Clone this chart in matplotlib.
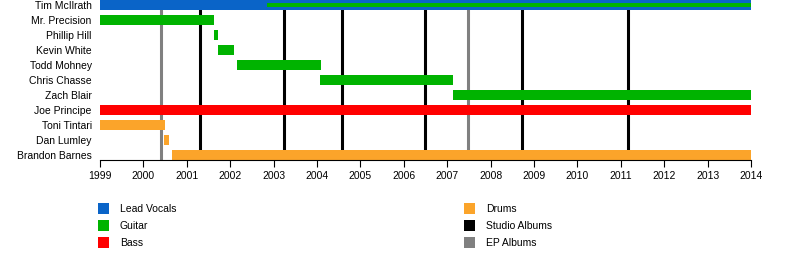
import matplotlib
matplotlib.use("Agg")
import matplotlib.pyplot as plt
from matplotlib.patches import Rectangle

plt.rcParams['font.family'] = ['Liberation Sans', 'DejaVu Sans']

members = ["Tim McIlrath", "Mr. Precision", "Phillip Hill", "Kevin White", "Todd Mohney",
           "Chris Chasse", "Zach Blair", "Joe Principe", "Toni Tintari", "Dan Lumley",
           "Brandon Barnes"]
# (member, start, end, role)
spans = [
    ("Tim McIlrath", 1999.0, 2014.0, "Lead Vocals"),
    ("Mr. Precision", 1999.0, 2001.63, "Guitar"),
    ("Phillip Hill", 2001.62, 2001.73, "Guitar"),
    ("Kevin White", 2001.73, 2002.09, "Guitar"),
    ("Todd Mohney", 2002.16, 2004.09, "Guitar"),
    ("Chris Chasse", 2004.07, 2007.13, "Guitar"),
    ("Zach Blair", 2007.13, 2014.0, "Guitar"),
    ("Joe Principe", 1999.0, 2014.0, "Bass"),
    ("Toni Tintari", 1999.0, 2000.5, "Drums"),
    ("Dan Lumley", 2000.47, 2000.59, "Drums"),
    ("Brandon Barnes", 2000.66, 2014.0, "Drums"),
]
# secondary role (thin inner bar)
secondary = [("Tim McIlrath", 2002.85, 2014.0, "Guitar")]

studio_albums = [2001.30, 2003.24, 2004.58, 2006.49, 2008.72, 2011.17]
ep_albums = [2000.41, 2007.48]

years = list(range(1999, 2015))

colors = {"Lead Vocals": "#0A64C8", "Guitar": "#00B300", "Bass": "#FF0000",
          "Drums": "#FBA42A", "Studio Albums": "#000000", "EP Albums": "#808080"}
legend_left = ["Lead Vocals", "Guitar", "Bass"]
legend_right = ["Drums", "Studio Albums", "EP Albums"]

W, H = 800, 280
fig = plt.figure(figsize=(W / 100, H / 100), dpi=100)
ax = fig.add_axes([100 / W, 1 - 160 / H, 651 / W, 160 / H])

row = {m: i for i, m in enumerate(members)}
for x in studio_albums:
    ax.axvline(x, color=colors["Studio Albums"], lw=2.2, zorder=1)
for x in ep_albums:
    ax.axvline(x, color=colors["EP Albums"], lw=2.2, zorder=1)

for m, s, e, r in spans:
    ax.barh(row[m], e - s, left=s, height=0.72, color=colors[r], zorder=2, linewidth=0)
for m, s, e, r in secondary:
    ax.barh(row[m], e - s, left=s, height=0.27, color=colors[r], zorder=3, linewidth=0)

ax.set_xlim(1999, 2014)
ax.set_ylim(len(members) - 1 + 1 / 3, -1 / 3)
ax.set_yticks(range(len(members)))
ax.set_yticklabels(members, fontsize=7.5)
ax.tick_params(axis='y', length=0, pad=6)
ax.set_xticks(years)
ax.set_xticklabels([str(y) for y in years], fontsize=7.5)
ax.tick_params(axis='x', length=5, width=0.8, pad=3)
for sp in ["left", "right", "top"]:
    ax.spines[sp].set_visible(False)
ax.spines["bottom"].set_linewidth(0.8)

# legend
for col, (items, xpx) in enumerate([(legend_left, 98), (legend_right, 464)]):
    for i, lab in enumerate(items):
        ypx = 203 + i * 17
        fig.add_artist(Rectangle((xpx / W, 1 - (ypx + 11) / H), 11 / W, 11 / H,
                                 transform=fig.transFigure, color=colors[lab], lw=0))
        fig.text((xpx + 22) / W, 1 - (ypx + 6) / H, lab, fontsize=7.5, va='center', ha='left')

fig.savefig("out.png", dpi=100)
